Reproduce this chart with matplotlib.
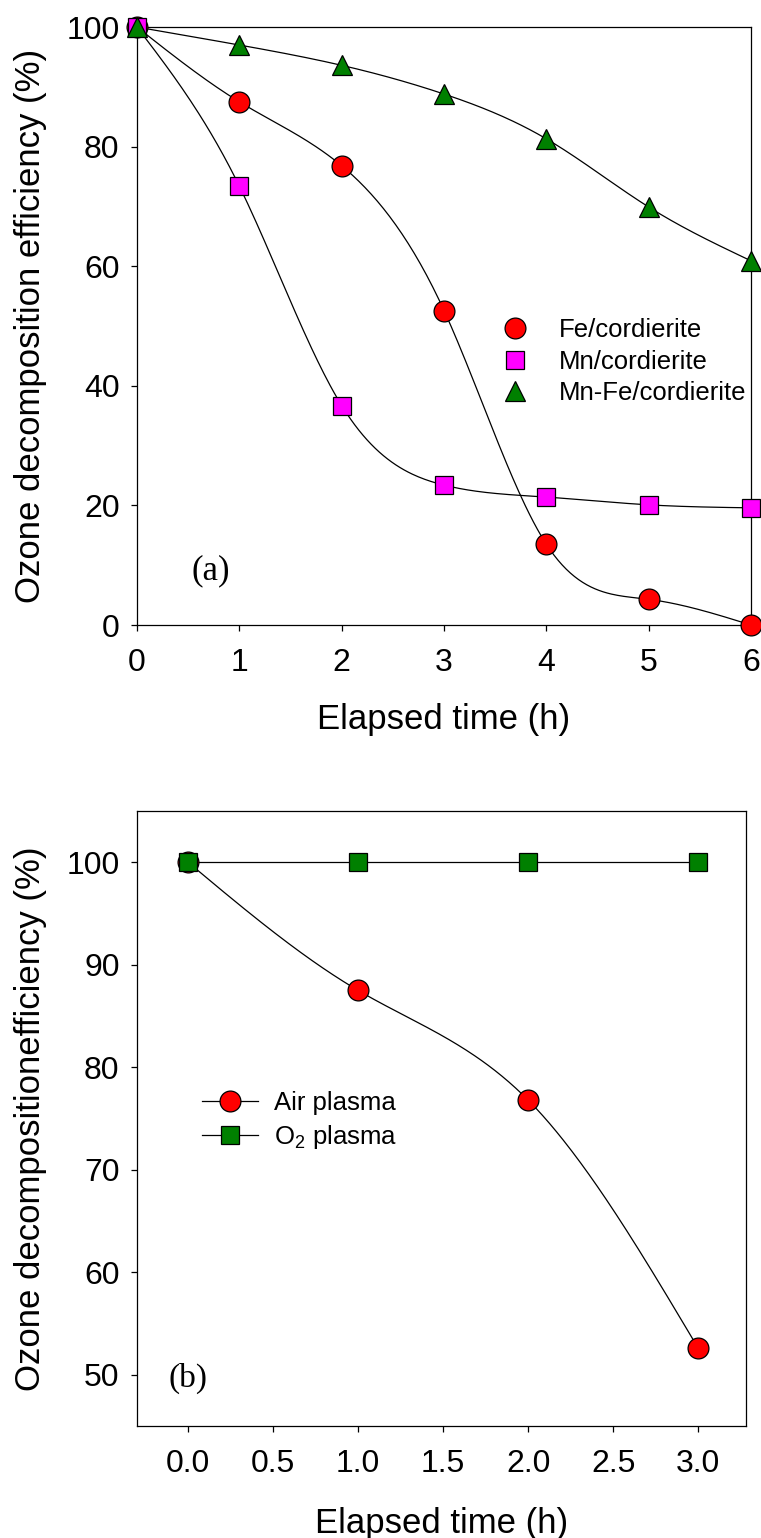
import numpy as np
import matplotlib
matplotlib.use("Agg")
import matplotlib.pyplot as plt
from matplotlib.lines import Line2D

plt.rcParams['font.family'] = ['Liberation Sans', 'DejaVu Sans']
plt.rcParams['mathtext.fontset'] = 'custom'
plt.rcParams['mathtext.rm'] = 'Liberation Sans'
plt.rcParams['mathtext.default'] = 'regular'

# panel (a) data
time_a = [0, 1, 2, 3, 4, 5, 6]
fe_cord = [100, 87.5, 76.8, 52.6, 13.5, 4.3, 0.0]
mn_cord = [100, 73.4, 36.7, 23.4, 21.4, 20.1, 19.6]
mnfe_cord = [100, 97.0, 93.6, 88.8, 81.3, 69.9, 60.9]

# panel (b) data
time_b = [0.0, 1.0, 2.0, 3.0]
air_plasma = [100, 87.5, 76.8, 52.6]
o2_plasma = [100, 100, 100, 100]


def natural_spline(x, y, n=300):
    # natural cubic spline through the data points (like SigmaPlot spline curve)
    x = np.asarray(x, float)
    y = np.asarray(y, float)
    k = len(x)
    h = np.diff(x)
    A = np.zeros((k, k))
    r = np.zeros(k)
    A[0, 0] = 1
    A[-1, -1] = 1
    for i in range(1, k - 1):
        A[i, i - 1] = h[i - 1]
        A[i, i] = 2 * (h[i - 1] + h[i])
        A[i, i + 1] = h[i]
        r[i] = 6 * ((y[i + 1] - y[i]) / h[i] - (y[i] - y[i - 1]) / h[i - 1])
    M = np.linalg.solve(A, r)
    xs = np.linspace(x[0], x[-1], n)
    idx = np.clip(np.searchsorted(x, xs) - 1, 0, k - 2)
    x0, x1 = x[idx], x[idx + 1]
    hh = x1 - x0
    t0 = x1 - xs
    t1 = xs - x0
    ys = (M[idx] * t0 ** 3 / (6 * hh) + M[idx + 1] * t1 ** 3 / (6 * hh)
          + (y[idx] / hh - M[idx] * hh / 6) * t0
          + (y[idx + 1] / hh - M[idx + 1] * hh / 6) * t1)
    return xs, ys


fig = plt.figure(figsize=(7.61, 15.38), dpi=100)

tick_fs = 23
label_fs = 25
legend_fs = 18.5
lw = 0.9

# ---------- panel (a) ----------
ax1 = fig.add_axes([0.180, 0.5936, 0.807, 0.3888])
series_a = [
    (fe_cord, 'o', 'red', 15, 'Fe/cordierite'),
    (mn_cord, 's', 'magenta', 13, 'Mn/cordierite'),
    (mnfe_cord, '^', 'green', 15, 'Mn-Fe/cordierite'),
]
handles_a = []
for ys, mk, col, ms, lab in series_a:
    sx, sy = natural_spline(time_a, ys)
    ax1.plot(sx, sy, color='black', lw=lw, clip_on=False, zorder=2)
    ax1.plot(time_a, ys, linestyle='none', marker=mk, ms=ms, mfc=col,
             mec='black', mew=0.9, clip_on=False, zorder=3)
    handles_a.append(Line2D([], [], linestyle='none', marker=mk, ms=ms,
                            mfc=col, mec='black', mew=0.9, label=lab))

ax1.set_xlim(0, 6)
ax1.set_ylim(0, 100)
ax1.set_xticks(time_a)
ax1.set_yticks([0, 20, 40, 60, 80, 100])
ax1.tick_params(direction='out', length=4.5, width=0.9, labelsize=tick_fs,
                pad=8, top=False, right=False)
ax1.tick_params(axis='x', pad=12)
ax1.set_xlabel('Elapsed time (h)', fontsize=label_fs, labelpad=18)
ax1.set_ylabel('Ozone decomposition efficiency (%)', fontsize=label_fs,
               labelpad=14)
for s in ax1.spines.values():
    s.set_linewidth(0.9)
ax1.text(0.72, 9, '(a)', fontsize=25, family='Liberation Serif',
         ha='center', va='center')
ax1.legend(handles=handles_a, loc='upper left', bbox_to_anchor=(0.57, 0.535),
           frameon=False, fontsize=legend_fs, handlelength=1.2,
           handletextpad=1.1, labelspacing=0.3, borderpad=0)

# ---------- panel (b) ----------
ax2 = fig.add_axes([0.180, 0.0728, 0.800, 0.3999])
series_b = [
    (air_plasma, 'o', 'red', 15, 'Air plasma'),
    (o2_plasma, 's', 'green', 13, 'O$_2$ plasma'),
]
handles_b = []
for ys, mk, col, ms, lab in series_b:
    sx, sy = natural_spline(time_b, ys)
    ax2.plot(sx, sy, color='black', lw=lw, zorder=2)
    ax2.plot(time_b, ys, linestyle='none', marker=mk, ms=ms, mfc=col,
             mec='black', mew=0.9, zorder=3)
    handles_b.append(Line2D([], [], color='black', lw=lw, marker=mk, ms=ms,
                            mfc=col, mec='black', mew=0.9, label=lab))

ax2.set_xlim(-0.30, 3.28)
ax2.set_ylim(45, 105)
ax2.set_xticks([0.0, 0.5, 1.0, 1.5, 2.0, 2.5, 3.0])
ax2.set_xticklabels(['0.0', '0.5', '1.0', '1.5', '2.0', '2.5', '3.0'])
ax2.set_yticks([50, 60, 70, 80, 90, 100])
ax2.tick_params(direction='out', length=4.5, width=0.9, labelsize=tick_fs,
                pad=8, top=False, right=False)
ax2.tick_params(axis='x', pad=12)
ax2.set_xlabel('Elapsed time (h)', fontsize=label_fs, labelpad=20)
ax2.set_ylabel('Ozone decompositionefficiency (%)', fontsize=label_fs,
               labelpad=14)
for s in ax2.spines.values():
    s.set_linewidth(0.9)
ax2.text(0.0, 49.6, '(b)', fontsize=24, family='Liberation Serif',
         ha='center', va='center')
ax2.legend(handles=handles_b, loc='upper left', bbox_to_anchor=(0.085, 0.565),
           frameon=False, fontsize=legend_fs, handlelength=2.2,
           handletextpad=0.6, labelspacing=0.3, borderpad=0)

fig.savefig('out.png', dpi=100)
